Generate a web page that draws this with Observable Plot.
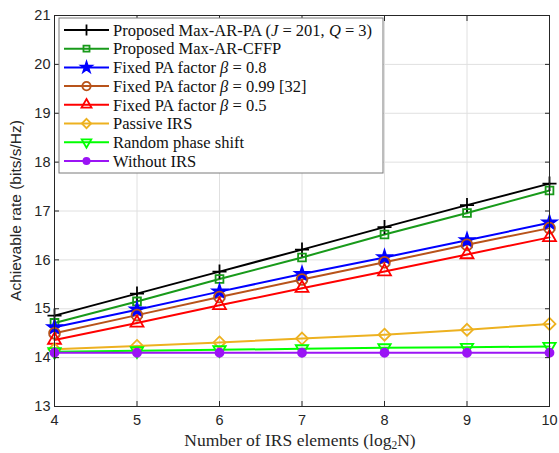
<!DOCTYPE html>
<html>
<head>
<meta charset="utf-8">
<script src="https://cdn.jsdelivr.net/npm/d3@7"></script>
<script src="https://cdn.jsdelivr.net/npm/@observablehq/plot@0.6"></script>
<style>
  html, body { margin: 0; padding: 0; background: #fff; }
  #chart { position: relative; width: 559px; height: 453px; }
</style>
</head>
<body>
<div id="chart"></div>
<script>
// ---- data ----
const xValues = [4, 5, 6, 7, 8, 9, 10];
const xTicks = [4, 5, 6, 7, 8, 9, 10];
const yTicks = [13, 14, 15, 16, 17, 18, 19, 20, 21];

const maxArPa      = [14.86, 15.31, 15.76, 16.21, 16.67, 17.12, 17.56];
const maxArCffp    = [14.71, 15.15, 15.61, 16.05, 16.52, 16.96, 17.42];
const fixedPa08    = [14.62, 14.98, 15.35, 15.71, 16.05, 16.40, 16.76];
const fixedPa099   = [14.50, 14.87, 15.24, 15.60, 15.95, 16.31, 16.65];
const fixedPa05    = [14.36, 14.71, 15.07, 15.42, 15.76, 16.11, 16.46];
const passiveIrs   = [14.17, 14.24, 14.31, 14.39, 14.47, 14.57, 14.69];
const randomPhase  = [14.12, 14.14, 14.16, 14.18, 14.20, 14.21, 14.23];
const withoutIrs   = [14.10, 14.10, 14.10, 14.10, 14.10, 14.10, 14.10];

const seriesNames = [
  "Proposed Max-AR-PA", "Proposed Max-AR-CFFP", "Fixed PA factor 0.8",
  "Fixed PA factor 0.99", "Fixed PA factor 0.5", "Passive IRS",
  "Random phase shift", "Without IRS"
];
const seriesValues = [maxArPa, maxArCffp, fixedPa08, fixedPa099, fixedPa05, passiveIrs, randomPhase, withoutIrs];
const seriesColors = ["#000000", "#189a1a", "#0000ff", "#b8531a", "#ff0000", "#edb120", "#00ff00", "#9b14f5"];
const seriesSymbols = ["plus", "square", "star", "circle", "triangle", "diamond2", "triangle", "circle"];
const seriesRotate = [0, 0, 0, 0, 0, 0, 180, 0];
const seriesFilled = [false, false, true, false, false, false, false, true];
const seriesR = [4.6, 4.4, 4.3, 5.4, 4.8, 5.4, 4.6, 4.0];

// Legend labels: arrays of [text, italic]
const legendLabels = [
  [["Proposed Max-AR-PA (", 0], ["J", 1], [" = 201, ", 0], ["Q", 1], [" = 3)", 0]],
  [["Proposed Max-AR-CFFP", 0]],
  [["Fixed PA factor ", 0], ["β", 1], [" = 0.8", 0]],
  [["Fixed PA factor ", 0], ["β", 1], [" = 0.99 [32]", 0]],
  [["Fixed PA factor ", 0], ["β", 1], [" = 0.5", 0]],
  [["Passive IRS", 0]],
  [["Random phase shift", 0]],
  [["Without IRS", 0]]
];

const xLabelParts = ["Number of IRS elements (log", "2", "N)"];
const yLabel = "Achievable rate (bits/s/Hz)";

// ---- build table ----
const rows = seriesNames.flatMap((name, s) =>
  xValues.map((x, i) => ({ x, y: seriesValues[s][i], s }))
);

const serif = "'Liberation Serif', 'DejaVu Serif', serif";
const sans = "'Liberation Sans', Arial, Helvetica, sans-serif";
const axisColor = "#262626";

const marks = [
  Plot.gridX(xTicks, { stroke: "#e0e0e0", strokeOpacity: 1 }),
  Plot.gridY(yTicks, { stroke: "#e0e0e0", strokeOpacity: 1 }),
];
seriesNames.forEach((name, s) => {
  const d = rows.filter(r => r.s === s);
  marks.push(Plot.line(d, { x: "x", y: "y", stroke: seriesColors[s], strokeWidth: 2 }));
});
seriesNames.forEach((name, s) => {
  const d = rows.filter(r => r.s === s);
  marks.push(Plot.dot(d, {
    x: "x", y: "y", r: seriesR[s], symbol: seriesSymbols[s], rotate: seriesRotate[s],
    stroke: seriesColors[s], strokeWidth: 1.8,
    fill: seriesFilled[s] ? seriesColors[s] : "none"
  }));
});
marks.push(
  Plot.frame({ stroke: axisColor, strokeWidth: 1 }),
  Plot.axisX(xTicks, { anchor: "bottom", tickSize: -5, tickPadding: 13, fontSize: 14.5, fontFamily: sans, color: axisColor, label: null }),
  Plot.axisX(xTicks, { anchor: "top", tickSize: -5, tickFormat: () => "", label: null, color: axisColor }),
  Plot.axisY(yTicks, { anchor: "left", tickSize: -5, tickPadding: 9, fontSize: 14.5, fontFamily: sans, color: axisColor, label: null }),
  Plot.axisY(yTicks, { anchor: "right", tickSize: -5, tickFormat: () => "", label: null, color: axisColor })
);

const chart = Plot.plot({
  width: 559,
  height: 453,
  marginLeft: 54,
  marginRight: 10,
  marginTop: 15,
  marginBottom: 47,
  x: { domain: [4, 10], label: null },
  y: { domain: [13, 21], label: null },
  style: { background: "#fff", color: axisColor },
  marks
});
document.getElementById("chart").appendChild(chart);

// ---- axis labels & legend via d3 on the plot svg ----
const svg = d3.select(chart.tagName.toLowerCase() === "svg" ? chart : chart.querySelector("svg"));

const xl = svg.append("text")
  .attr("x", 300).attr("y", 446)
  .attr("text-anchor", "middle")
  .attr("font-family", serif).attr("font-size", 17.5).attr("fill", axisColor);
xl.append("tspan").text(xLabelParts[0]);
xl.append("tspan").attr("font-size", 11.5).attr("dy", 3).text(xLabelParts[1]);
xl.append("tspan").attr("dy", -3).text(xLabelParts[2]);

svg.append("text")
  .attr("transform", `translate(21, ${(15 + 406) / 2}) rotate(-90)`)
  .attr("text-anchor", "middle")
  .attr("font-family", sans).attr("font-size", 15.5).attr("fill", axisColor)
  .text(yLabel);

const lg = svg.append("g").attr("transform", "translate(59,18)");
lg.append("rect").attr("width", 324).attr("height", 155)
  .attr("fill", "#fff").attr("stroke", "#7a7a7a").attr("stroke-width", 1);

const symbolMap = {
  plus: d3.symbolPlus, square: d3.symbolSquare, star: d3.symbolStar,
  circle: d3.symbolCircle, triangle: d3.symbolTriangle, diamond2: d3.symbolDiamond2
};
legendLabels.forEach((parts, s) => {
  const cy = 12 + s * 18.7;
  const row = lg.append("g").attr("transform", `translate(0,${cy})`);
  row.append("line").attr("x1", 5).attr("x2", 50).attr("y1", 0).attr("y2", 0)
    .attr("stroke", seriesColors[s]).attr("stroke-width", 2);
  row.append("path")
    .attr("d", d3.symbol(symbolMap[seriesSymbols[s]], 0.6 * Math.PI * seriesR[s] * seriesR[s])())
    .attr("transform", `translate(27.5,0) rotate(${seriesRotate[s]})`)
    .attr("stroke", seriesColors[s]).attr("stroke-width", 1.8)
    .attr("fill", seriesFilled[s] ? seriesColors[s] : "none");
  const t = row.append("text").attr("x", 54).attr("y", 0).attr("dy", "0.35em")
    .attr("text-anchor", "start")
    .attr("font-family", serif).attr("font-size", 16.5).attr("fill", "#111");
  parts.forEach(([txt, it]) => {
    t.append("tspan").attr("font-style", it ? "italic" : "normal").text(txt);
  });
});
</script>
</body>
</html>
